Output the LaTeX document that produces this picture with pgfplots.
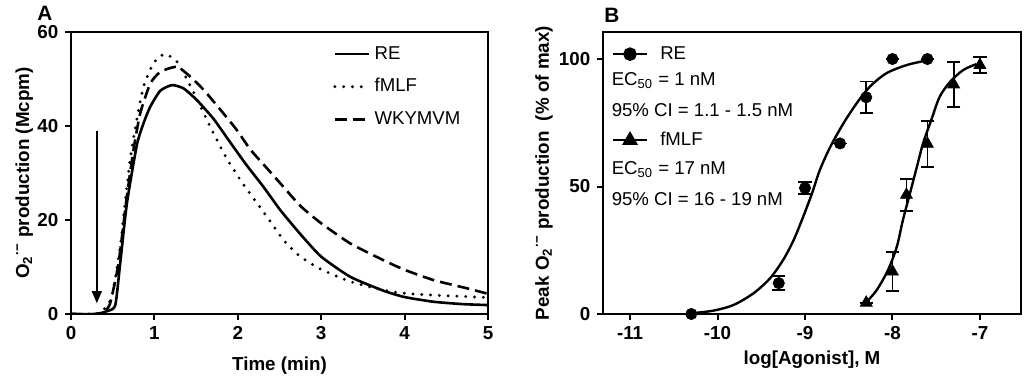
\documentclass[border=0pt]{standalone}
\usepackage{fontspec}
\setmainfont{Liberation Sans}
\usepackage{pgfplots}
\pgfplotsset{compat=1.18}
\usetikzlibrary{arrows.meta}
\newcommand{\lab}{\bfseries\fontsize{9.4}{11}\selectfont}
\newcommand{\leg}{\fontsize{9.3}{11}\selectfont}
\begin{document}
\begin{tikzpicture}
\path[use as bounding box] (0pt,0pt) rectangle (512pt,195.5pt);
\pgfplotsset{
  panel/.style={
    scale only axis, anchor=south west,
    axis line style={line width=1pt},
    every tick/.style={line width=1pt, black},
    tick align=outside, major tick length=2.8pt,
    xtick pos=bottom, ytick pos=left,
    ticklabel style={font=\lab},
    label style={font=\lab},
    /pgf/number format/assume math mode=true,
  }
}
% ---------------- Panel A ----------------
\begin{axis}[panel,
  at={(35.5pt,38.5pt)}, width=208.5pt, height=141pt,
  xmin=0, xmax=5, ymin=0, ymax=60,
  xtick={0,1,2,3,4,5}, ytick={0,20,40,60},
  xlabel={Time (min)},
  ylabel={O\textsubscript{2}\textsuperscript{·−} production (Mcpm)},
  xlabel style={at={(axis description cs:0.5,-0.184)}, anchor=center},
  ylabel style={at={(axis description cs:-0.112,0.5)}, anchor=center},
  legend style={draw=none, fill=none, at={(axis description cs:0.628,0.965)}, anchor=north west,
    font=\leg, row sep=4.2pt, inner sep=0pt},
  legend cell align=left,
]
\addplot[black, line width=1.3pt, smooth, tension=0.35] coordinates {
(0,0)(0.30,0)(0.43,0.6)(0.53,1.8)(0.59,10.8)(0.67,23.5)(0.79,36.0)(0.87,40.6)(0.95,44.1)(1.07,47.5)(1.21,48.7)(1.35,48.0)(1.51,45.5)(1.71,41.5)(1.91,36.5)(2.10,31.8)(2.31,27.0)(2.51,22.1)(2.75,17.0)(3.0,12.2)(3.35,7.9)(3.74,5.0)(4.0,3.6)(4.35,2.6)(4.7,2.1)(5.0,1.9)
};
\addlegendentry{RE}
\addplot[black, line width=1.6pt, line cap=round, dash pattern=on 0pt off 4.4pt, smooth, tension=0.35] coordinates {
(0,0)(0.30,0)(0.39,0.9)(0.49,3.7)(0.59,14.3)(0.65,24)(0.71,33)(0.79,41.5)(0.87,48.4)(0.95,52)(1.03,54.3)(1.13,55.3)(1.27,53.7)(1.43,48.6)(1.57,43.5)(1.71,38.4)(1.87,33.0)(2.07,27.5)(2.35,20.7)(2.55,15.7)(2.75,12.2)(3.0,9.5)(3.35,6.9)(3.74,5.1)(4.0,4.4)(4.35,4.0)(4.75,3.7)(5.0,3.5)
};
\addlegendentry{fMLF}
\addplot[black, line width=1.3pt, dash pattern=on 6pt off 3pt, smooth, tension=0.35] coordinates {
(0,0)(0.30,0)(0.40,0.5)(0.47,2.3)(0.57,10.8)(0.67,25)(0.75,35)(0.83,42.7)(0.95,49.0)(1.07,51.5)(1.27,52.6)(1.43,50.5)(1.59,47.7)(1.79,43.5)(1.99,39.1)(2.15,35)(2.35,31)(2.55,27)(2.75,23)(3.0,19.3)(3.35,15.0)(3.74,11.5)(4.0,9.4)(4.35,7.2)(4.74,5.5)(5.0,4.3)
};
\addlegendentry{WKYMVM}
\draw[line width=0.7pt, -{Triangle[length=6pt,width=5pt]}] (axis cs:0.31,39) -- (axis cs:0.31,2.3);
\end{axis}
\node[font=\bfseries\fontsize{10.4}{12}\selectfont] at (22.5pt,189pt) {A};
% ---------------- Panel B ----------------
\begin{axis}[panel,
  at={(301.5pt,38.5pt)}, width=209pt, height=141pt,
  xmin=-11.31, xmax=-6.53, ymin=0, ymax=110.6,
  xtick={-11,-10,-9,-8,-7}, ytick={0,50,100},
  clip=false,
  xlabel={log[Agonist], M},
  ylabel={Peak O\textsubscript{2}\textsuperscript{·−} production\ \ (\% of max)},
  xlabel style={at={(axis description cs:0.5,-0.163)}, anchor=center},
  ylabel style={at={(axis description cs:-0.141,0.5)}, anchor=center},
  legend style={draw=none, fill=none, at={(axis description cs:0.02,0.965)}, anchor=north west,
    font=\leg, row sep=31pt, inner sep=0pt},
  legend cell align=left,
  error bars/error bar style={line width=0.9pt, black},
  error bars/error mark options={rotate=90, mark size=3.3pt, line width=0.9pt, black},
]
\addlegendimage{black, line width=1.2pt, mark=*, mark size=2.8pt}
\addlegendentry{\hspace{4pt}RE}
\addlegendimage{black, line width=1.2pt, mark=triangle*, mark size=3.4pt}
\addlegendentry{\hspace{4pt}fMLF}
% RE fit curve
\addplot[black, line width=1.2pt, smooth, forget plot] coordinates {
(-10.295,0.3)(-10.05,1.3)(-9.82,3.5)(-9.59,8.1)(-9.40,14.0)(-9.25,21.2)(-9.13,29.0)(-9.02,38.2)(-8.92,47.3)(-8.83,56.5)(-8.71,65.6)(-8.56,74.8)(-8.41,82.6)(-8.26,89.1)(-8.07,94.4)(-7.84,97.6)(-7.63,99.3)
};
% fMLF fit curve
\addplot[black, line width=1.2pt, smooth, forget plot] coordinates {
(-8.31,4.2)(-8.18,9.4)(-8.05,17.3)(-7.95,26.4)(-7.88,36.9)(-7.80,47.3)(-7.72,57.8)(-7.65,66.9)(-7.55,76.7)(-7.46,85.2)(-7.34,91.1)(-7.19,95.7)(-7.04,98.0)
};
% RE points
\addplot[black, only marks, mark=*, mark size=2.8pt, forget plot,
  error bars/.cd, y dir=both, y explicit] coordinates {
(-10.30,0) +- (0,0)
(-9.30,12.1) +- (0,2.7)
(-9.00,49.4) +- (0,2.4)
(-8.60,66.9) +- (0,0)
(-8.30,85.0) +- (0,6.2)
(-8.00,100) +- (0,0)
(-7.60,100) +- (0,0)
};
% fMLF points
\addplot[black, only marks, mark=triangle*, mark size=3.4pt, forget plot,
  error bars/.cd, y dir=both, y explicit] coordinates {
(-8.30,4.4) +- (0,0)
(-8.00,16.6) +- (0,7.6)
(-7.84,46.7) +- (0,6.3)
(-7.60,66.7) +- (0,9.0)
(-7.30,90.0) +- (0,8.7)
(-7.00,97.6) +- (0,3.2)
};
\node[anchor=west, font=\leg, inner sep=0pt] at (axis description cs:0.02,0.828) {EC\textsubscript{50} = 1 nM};
\node[anchor=west, font=\leg, inner sep=0pt] at (axis description cs:0.02,0.722) {95\% CI = 1.1 - 1.5 nM};
\node[anchor=west, font=\leg, inner sep=0pt] at (axis description cs:0.02,0.512) {EC\textsubscript{50} = 17 nM};
\node[anchor=west, font=\leg, inner sep=0pt] at (axis description cs:0.02,0.408) {95\% CI = 16 - 19 nM};
\end{axis}
\node[font=\bfseries\fontsize{10.4}{12}\selectfont] at (306pt,188pt) {B};
\end{tikzpicture}
\end{document}
